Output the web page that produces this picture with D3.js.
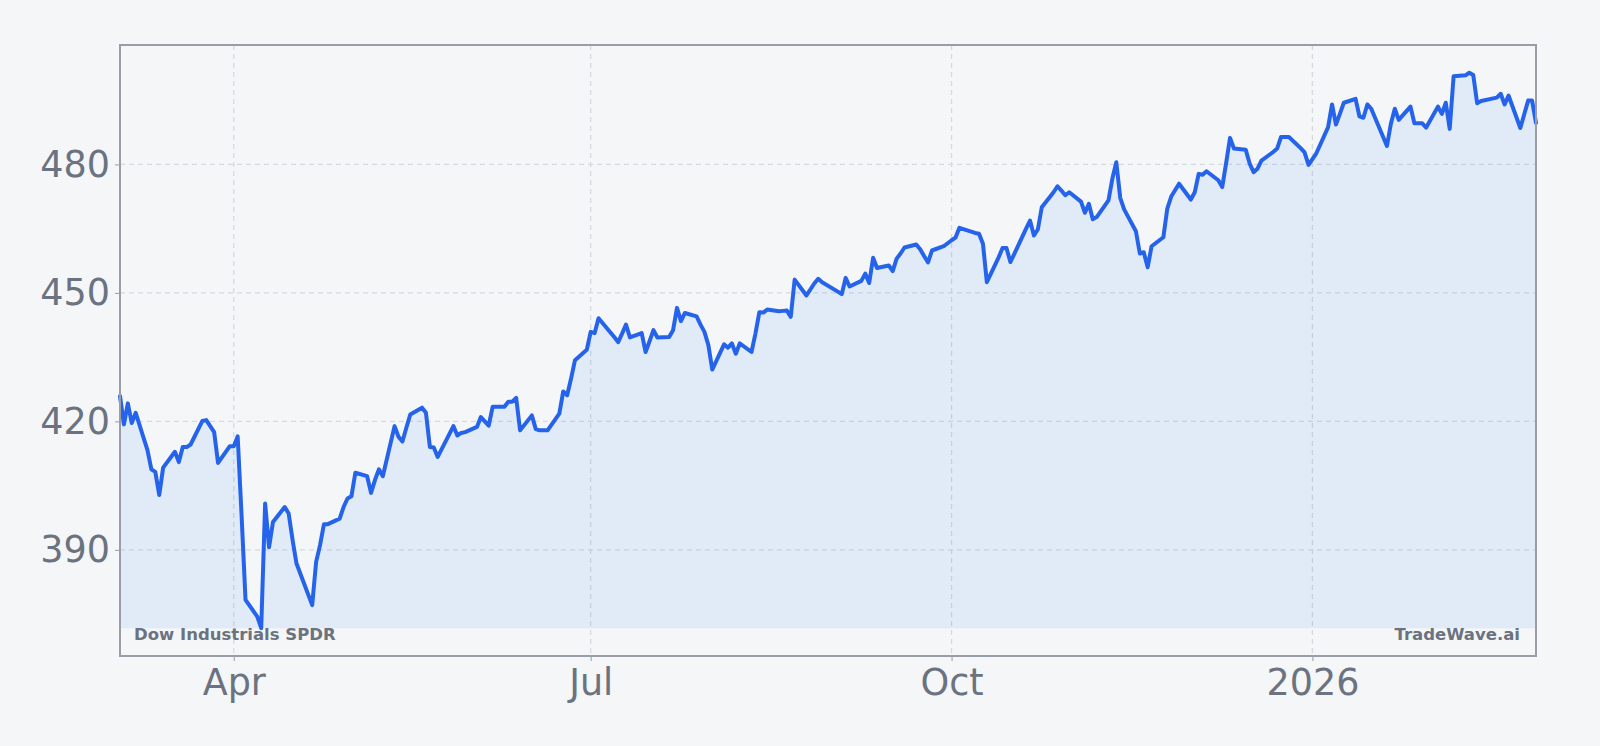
<!DOCTYPE html>
<html>
<head>
<meta charset="utf-8">
<script src="https://cdn.jsdelivr.net/npm/d3@7"></script>
<style>
  html, body { margin: 0; padding: 0; background: #f4f6f8; }
  svg { display: block; font-family: "DejaVu Sans", sans-serif; }
</style>
</head>
<body>
<svg id="chart" width="1600" height="746"></svg>
<script>
// daily closes
const dates = [
  "2025-03-03","2025-03-04","2025-03-05","2025-03-06","2025-03-07","2025-03-10","2025-03-11","2025-03-12","2025-03-13","2025-03-14",
  "2025-03-17","2025-03-18","2025-03-19","2025-03-20","2025-03-21","2025-03-24","2025-03-25","2025-03-26","2025-03-27","2025-03-28","2025-03-31",
  "2025-04-01","2025-04-02","2025-04-03","2025-04-04","2025-04-07","2025-04-08","2025-04-09","2025-04-10","2025-04-11",
  "2025-04-14","2025-04-15","2025-04-16","2025-04-17","2025-04-21","2025-04-22","2025-04-23","2025-04-24","2025-04-25",
  "2025-04-28","2025-04-29","2025-04-30","2025-05-01","2025-05-02",
  "2025-05-05","2025-05-06","2025-05-07","2025-05-08","2025-05-09","2025-05-12","2025-05-13","2025-05-14","2025-05-15","2025-05-16",
  "2025-05-19","2025-05-20","2025-05-21","2025-05-22","2025-05-23","2025-05-27","2025-05-28","2025-05-29","2025-05-30",
  "2025-06-02","2025-06-03","2025-06-04","2025-06-05","2025-06-06","2025-06-09","2025-06-10","2025-06-11","2025-06-12","2025-06-13",
  "2025-06-16","2025-06-17","2025-06-18","2025-06-20","2025-06-23","2025-06-24","2025-06-25","2025-06-26","2025-06-27","2025-06-30",
  "2025-07-01","2025-07-02","2025-07-03","2025-07-07","2025-07-08","2025-07-09","2025-07-10","2025-07-11",
  "2025-07-14","2025-07-15","2025-07-16","2025-07-17","2025-07-18","2025-07-21","2025-07-22","2025-07-23","2025-07-24","2025-07-25",
  "2025-07-28","2025-07-29","2025-07-30","2025-07-31","2025-08-01",
  "2025-08-04","2025-08-05","2025-08-06","2025-08-07","2025-08-08","2025-08-11","2025-08-12","2025-08-13","2025-08-14","2025-08-15",
  "2025-08-18","2025-08-19","2025-08-20","2025-08-21","2025-08-22","2025-08-25","2025-08-26","2025-08-27","2025-08-28","2025-08-29",
  "2025-09-02","2025-09-03","2025-09-04","2025-09-05","2025-09-08","2025-09-09","2025-09-10","2025-09-11","2025-09-12",
  "2025-09-15","2025-09-16","2025-09-17","2025-09-18","2025-09-19","2025-09-22","2025-09-23","2025-09-24","2025-09-25","2025-09-26",
  "2025-09-29","2025-09-30","2025-10-01","2025-10-02","2025-10-03",
  "2025-10-06","2025-10-07","2025-10-08","2025-10-09","2025-10-10","2025-10-13","2025-10-14","2025-10-15","2025-10-16","2025-10-17",
  "2025-10-20","2025-10-21","2025-10-22","2025-10-23","2025-10-24","2025-10-27","2025-10-28","2025-10-29","2025-10-30","2025-10-31",
  "2025-11-03","2025-11-04","2025-11-05","2025-11-06","2025-11-07","2025-11-10","2025-11-11","2025-11-12","2025-11-13","2025-11-14",
  "2025-11-17","2025-11-18","2025-11-19","2025-11-20","2025-11-21","2025-11-24","2025-11-25","2025-11-26","2025-11-28",
  "2025-12-01","2025-12-02","2025-12-03","2025-12-04","2025-12-05","2025-12-08","2025-12-09","2025-12-10","2025-12-11","2025-12-12",
  "2025-12-15","2025-12-16","2025-12-17","2025-12-18","2025-12-19","2025-12-22","2025-12-23","2025-12-24","2025-12-26",
  "2025-12-29","2025-12-30","2025-12-31","2026-01-02",
  "2026-01-05","2026-01-06","2026-01-07","2026-01-08","2026-01-09","2026-01-12","2026-01-13","2026-01-14","2026-01-15","2026-01-16",
  "2026-01-20","2026-01-21","2026-01-22","2026-01-23","2026-01-26","2026-01-27","2026-01-28","2026-01-29","2026-01-30",
  "2026-02-02","2026-02-03","2026-02-04","2026-02-05","2026-02-06","2026-02-09","2026-02-10","2026-02-11","2026-02-12","2026-02-13",
  "2026-02-17","2026-02-18","2026-02-19","2026-02-20","2026-02-23","2026-02-24","2026-02-25","2026-02-26","2026-02-27"
];
const closes = [
  425.9, 419.3, 424.2, 419.6, 422.0, 413.3, 408.8, 408.2, 402.8, 409.2,
  412.9, 410.5, 414.0, 414.0, 414.6, 420.1, 420.3, 418.9, 417.5, 410.3, 414.2,
  414.2, 416.5, 398.0, 378.3, 374.4, 371.7, 400.8, 390.6, 396.5,
  400.0, 398.5, 392.3, 386.8, 377.1, 387.2, 391.1, 396.0, 396.0,
  397.3, 400.0, 402.0, 402.5, 408.0,
  407.2, 403.3, 406.3, 408.8, 407.2, 418.9, 416.4, 415.3, 418.5, 421.6,
  423.2, 422.0, 414.0, 413.9, 411.7, 418.9, 416.7, 417.3, 417.5,
  418.7, 421.0, 420.0, 419.0, 423.4, 423.4, 424.6, 424.6, 425.5, 417.9,
  421.4, 418.2, 417.9, 417.9, 421.8, 427.0, 426.1, 430.0, 434.3, 436.7,
  440.9, 440.6, 444.1, 439.7, 438.5, 440.5, 442.6, 439.6,
  440.6, 436.2, 438.7, 441.3, 439.6, 439.7, 441.3, 446.5, 443.4, 445.3,
  444.5, 442.6, 440.9, 437.8, 432.1,
  438.0, 437.2, 438.2, 435.8, 438.2, 436.2, 440.5, 445.5, 445.4, 446.1,
  445.7, 445.8, 445.9, 444.4, 453.1, 449.4, 450.8, 452.2, 453.3, 452.5,
  450.3, 449.7, 453.5, 451.5, 452.8, 454.5, 452.3, 458.2, 455.8,
  456.4, 455.1, 458.0, 459.2, 460.6, 461.3, 460.2, 458.6, 457.1, 459.9,
  460.9, 461.6, 462.3, 462.9, 465.2,
  464.3, 464.0, 463.8, 461.5, 452.5, 458.3, 460.5, 460.5, 457.2, 459.1,
  465.0, 466.9, 463.4, 464.8, 470.0, 473.5, 474.9, 473.9, 472.8, 473.5,
  471.3, 468.7, 470.8, 467.2, 467.7, 471.6, 476.7, 480.5, 472.2, 469.5,
  464.4, 459.2, 459.5, 456.0, 460.9, 463.0, 469.7, 472.5, 475.5,
  471.8, 473.5, 477.8, 477.6, 478.4, 476.3, 474.7, 480.3, 486.2, 483.7,
  483.4, 480.2, 478.2, 479.0, 480.9, 482.9, 483.7, 486.4, 486.4,
  483.8, 482.8, 479.9, 482.6,
  488.7, 494.0, 489.3, 491.8, 494.4, 495.3, 491.2, 490.9, 494.0, 493.0,
  484.3, 489.5, 493.0, 490.4, 493.5, 489.6, 489.6, 489.6, 488.6,
  493.5, 491.8, 494.4, 488.3, 500.6, 500.8, 501.4, 500.9, 494.3, 494.8,
  495.6, 496.5, 494.0, 496.1, 488.5, 491.7, 494.9, 494.9, 489.7
];

const yTicks = [390, 420, 450, 480];
const xTickDates = ["2025-04-01", "2025-07-01", "2025-10-01", "2026-01-01"];
const xTickLabels = ["Apr", "Jul", "Oct", "2026"];
const seriesName = "Dow Industrials SPDR";
const sourceName = "TradeWave.ai";

const parse = d3.timeParse("%Y-%m-%d");
const data = dates.map((d, i) => ({ date: parse(d), close: closes[i] }));

const svg = d3.select("#chart");
const width = 1600;
const height = 746;
const margin = { top: 45, right: 64, bottom: 90, left: 120 };

const lo = d3.min(data, (d) => d.close);
const hi = d3.max(data, (d) => d.close);
const pad = (hi - lo) * 0.05;

const x = d3
  .scaleTime()
  .domain(d3.extent(data, (d) => d.date))
  .range([margin.left, width - margin.right]);

const y = d3
  .scaleLinear()
  .domain([lo - pad, hi + pad])
  .range([height - margin.bottom, margin.top]);

const textColor = "#6b7280";
const gridColor = "#d5d9e0";
const frameColor = "#9a9ca8";

// grid
svg
  .append("g")
  .selectAll("line")
  .data(yTicks)
  .join("line")
  .attr("x1", margin.left)
  .attr("x2", width - margin.right)
  .attr("y1", (d) => y(d))
  .attr("y2", (d) => y(d))
  .attr("stroke", gridColor)
  .attr("stroke-width", 1.3)
  .attr("stroke-dasharray", "5,4");

svg
  .append("g")
  .selectAll("line")
  .data(xTickDates.map(parse))
  .join("line")
  .attr("x1", (d) => x(d))
  .attr("x2", (d) => x(d))
  .attr("y1", margin.top)
  .attr("y2", height - margin.bottom)
  .attr("stroke", gridColor)
  .attr("stroke-width", 1.3)
  .attr("stroke-dasharray", "5,4");

// area down to the lowest close, then the line
const area = d3
  .area()
  .x((d) => x(d.date))
  .y0(y(lo))
  .y1((d) => y(d.close));

svg
  .append("path")
  .datum(data)
  .attr("fill", "rgba(59,130,246,0.1)")
  .attr("d", area);

const line = d3
  .line()
  .x((d) => x(d.date))
  .y((d) => y(d.close));

svg
  .append("path")
  .datum(data)
  .attr("fill", "none")
  .attr("stroke", "#2563eb")
  .attr("stroke-width", 4)
  .attr("stroke-linejoin", "round")
  .attr("stroke-linecap", "round")
  .attr("d", line);

// frame
svg
  .append("rect")
  .attr("x", margin.left)
  .attr("y", margin.top)
  .attr("width", width - margin.left - margin.right)
  .attr("height", height - margin.top - margin.bottom)
  .attr("fill", "none")
  .attr("stroke", frameColor)
  .attr("stroke-width", 2);

// axes
const styleTicks = (g) =>
  g
    .call((g) => g.select(".domain").remove())
    .call((g) => g.selectAll(".tick line").attr("stroke", frameColor))
    .call((g) =>
      g
        .selectAll(".tick text")
        .attr("fill", textColor)
        .attr("font-size", 36.5)
        .attr("font-family", '"DejaVu Sans", sans-serif')
    );

const yAxis = (g) =>
  g
    .attr("transform", `translate(${margin.left},0)`)
    .call(d3.axisLeft(y).tickValues(yTicks).tickSize(5).tickPadding(5))
    .call(styleTicks);

svg.append("g").call(yAxis);

const xAxis = (g) =>
  g
    .attr("transform", `translate(0,${height - margin.bottom})`)
    .call(
      d3
        .axisBottom(x)
        .tickValues(xTickDates.map(parse))
        .tickFormat((d, i) => xTickLabels[i])
        .tickSize(5)
        .tickPadding(8)
    )
    .call(styleTicks);

svg.append("g").call(xAxis);

// captions inside the plot
svg
  .append("text")
  .attr("x", margin.left + 14)
  .attr("y", height - margin.bottom - 16)
  .attr("fill", textColor)
  .attr("font-size", 16.5)
  .attr("font-weight", "bold")
  .text(seriesName);

svg
  .append("text")
  .attr("x", width - margin.right - 16)
  .attr("y", height - margin.bottom - 16)
  .attr("text-anchor", "end")
  .attr("fill", textColor)
  .attr("font-size", 16.5)
  .attr("font-weight", "bold")
  .text(sourceName);
</script>
</body>
</html>
